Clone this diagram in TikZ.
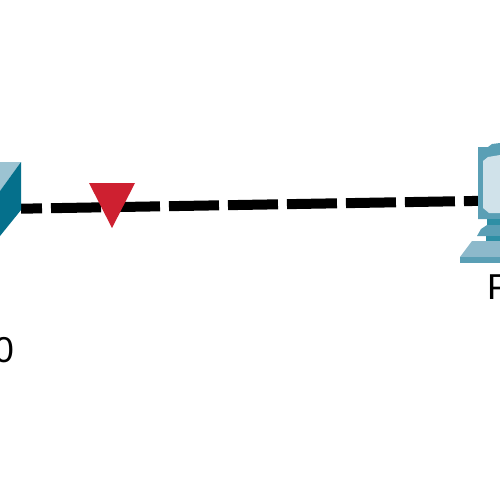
\documentclass[tikz,border=0pt]{standalone}
\usepackage{fontspec}
\setmainfont{Liberation Sans}
\definecolor{cubedark}{HTML}{05708C}
\definecolor{cubelight}{HTML}{9CC3D2}
\definecolor{pcframe}{HTML}{5A9FB5}
\definecolor{pcscreen}{HTML}{D0E2EA}
\definecolor{pcdark}{HTML}{2E8FA5}
\definecolor{pclight}{HTML}{8DB9CB}
\definecolor{linkdown}{HTML}{CE2030}
\tikzset{
	label text/.style={inner sep=0pt, font=\fontsize{36}{36}\selectfont, text=black},
	link/.style={black, line width=10pt, dash pattern=on 50pt off 9pt, dash phase=29pt}
}

\begin{document}
\begin{tikzpicture}[x=1pt, y=-1pt]
	\clip (0,0) rectangle (500,500);
	\fill[white] (0,0) rectangle (500,500);
	\coordinate (switch) at (21,208.7);
	\coordinate (pc) at (478,200.9);
	\draw[link] (switch) -- (pc);
	% switch
	\fill[cubelight] (0,162) -- (21,162) -- (0,191) -- cycle;
	\fill[cubedark] (21,162) -- (21,210) -- (0,236) -- (0,191) -- cycle;
	% pc
	\fill[pcframe] (478,147) -- (488,147) -- (492,144) -- (500,143) -- (500,219) -- (478,219) -- cycle;
	\fill[pcscreen] (483,161) -- (488,157) -- (500,155) -- (500,213) -- (489,213) -- (483,208) -- cycle;
	\fill[pcdark] (487,219) -- (500,219) -- (500,225) -- (487,225) -- cycle;
	\fill[pcframe] (481,229) -- (487,225) -- (500,225) -- (500,236) -- (477,236) -- cycle;
	\fill[pcdark] (486,236) -- (500,236) -- (500,241) -- (486,241) -- cycle;
	\fill[pclight] (472,241) -- (500,241) -- (500,257) -- (460,257) -- cycle;
	\fill[pcframe] (460,257) -- (500,257) -- (500,263) -- (460,263) -- cycle;
	% link state
	\fill[linkdown] (89,183) -- (135,183) -- (112,228) -- cycle;
	% labels
	\node[label text, anchor=base east] (switch label) at (14,362) {0};
	\node[label text, anchor=base west] (pc label) at (487,299) {P};
\end{tikzpicture}
\end{document}
